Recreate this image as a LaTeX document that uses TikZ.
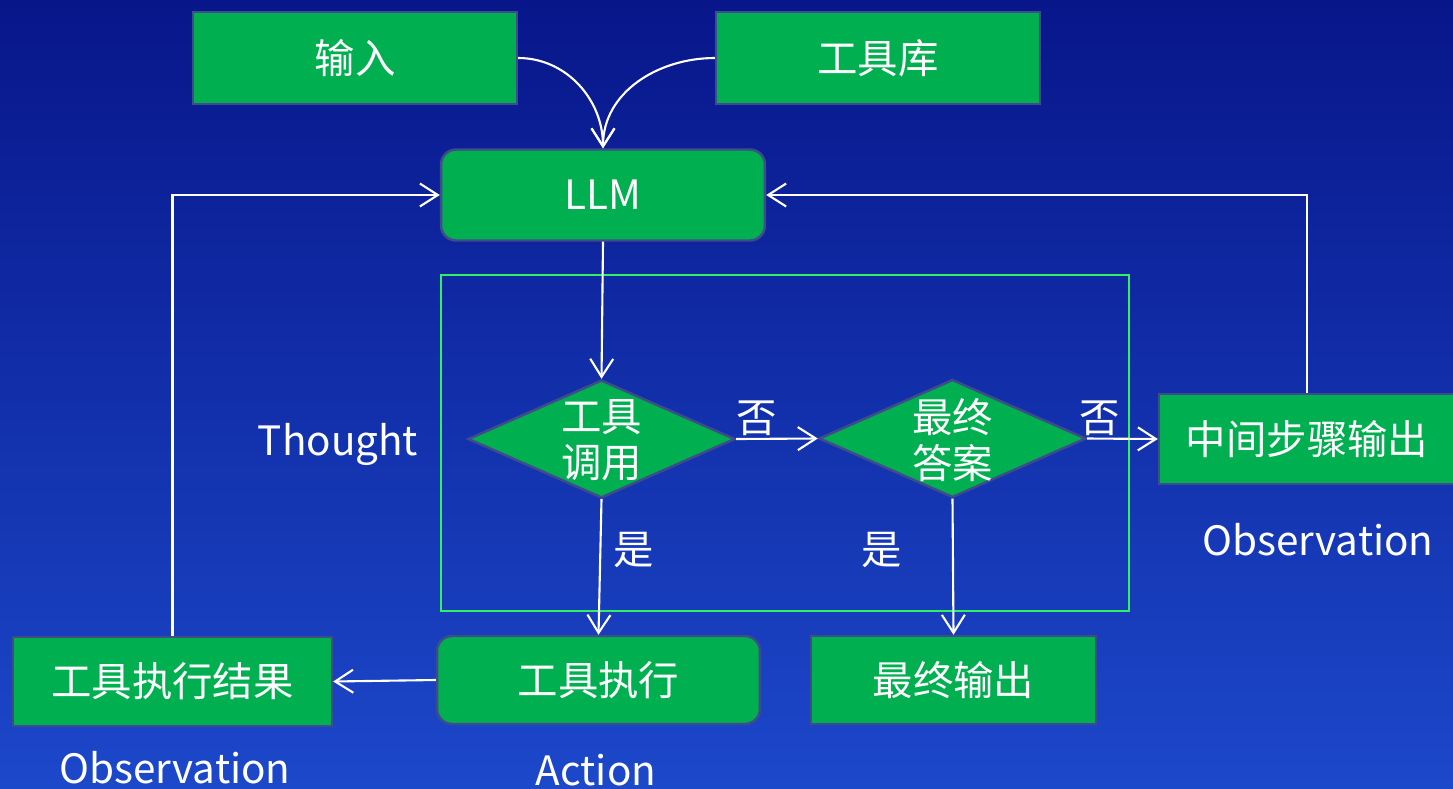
\documentclass[tikz,border=0pt]{standalone}
\usepackage{fontspec}
\setmainfont{Noto Sans CJK SC}
\usetikzlibrary{shapes.geometric,arrows.meta}
\definecolor{bgtop}{RGB}{8,22,138}
\definecolor{bgbot}{RGB}{28,72,202}
\definecolor{boxgreen}{RGB}{0,176,80}
\definecolor{boxedge}{RGB}{62,76,140}
\definecolor{framegreen}{RGB}{50,240,100}
\begin{document}
\begin{tikzpicture}[x=0.02cm,y=-0.02cm,
  box/.style={draw=boxedge, line width=1.4pt, fill=boxgreen, text=white,
    font=\fontsize{23}{28}\selectfont, inner sep=0pt},
  rbox/.style={box, rounded corners=0.3cm},
  dia/.style={diamond, draw=boxedge, line width=1.4pt, fill=boxgreen, inner sep=0pt,
    minimum width=5.34cm, minimum height=2.36cm},
  lbl/.style={text=white, font=\fontsize{23}{27}\selectfont, inner sep=0pt},
  conn/.style={draw=white, line width=1.2pt, -{Straight Barb[length=3.6mm,width=4.6mm]}}]
\useasboundingbox (0,0) rectangle (1453,788);
\shade[top color=bgtop, bottom color=bgbot] (0,0) rectangle (1453,788);

\node[draw=framegreen, line width=1.2pt, minimum width=13.76cm, minimum height=6.72cm, inner sep=0pt] (frame) at (785,443) {};

\node[box, minimum width=6.48cm, minimum height=1.84cm] (in) at (355,58) {输入};
\node[box, minimum width=6.48cm, minimum height=1.84cm] (lib) at (878,58) {工具库};
\node[rbox, minimum width=6.48cm, minimum height=1.82cm] (llm) at (603,195) {LLM};
\node[dia] (d1) at (601.5,439) {};
\node[lbl, align=center, font=\fontsize{23}{26}\selectfont] (d1t) at (601.5,440) {工具\\调用};
\node[dia] (d2) at (952.5,438.5) {};
\node[lbl, align=center, font=\fontsize{23}{26}\selectfont] (d2t) at (952.5,440) {最终\\答案};
\node[box, minimum width=5.92cm, minimum height=1.8cm] (mid) at (1307,439) {中间步骤输出};
\node[box, minimum width=6.38cm, minimum height=1.78cm] (res) at (172.5,681.5) {工具执行结果};
\node[rbox, minimum width=6.46cm, minimum height=1.76cm] (exec) at (598.5,680) {工具执行};
\node[box, minimum width=5.7cm, minimum height=1.76cm] (fin) at (953.5,680) {最终输出};

\node[lbl] (thought) at (338,444) {Thought};
\node[lbl] (obs1) at (1318,540) {Observation};
\node[lbl] (obs2) at (175,768) {Observation};
\node[lbl] (act) at (596,770) {Action};
\node[lbl] (no1) at (757,418) {否};
\node[lbl] (no2) at (1100,418) {否};
\node[lbl] (yes1) at (634,550) {是};
\node[lbl] (yes2) at (882,550) {是};

\draw[conn] (in.east) to[out=0,in=90] (llm.north);
\draw[conn] (lib.west) to[out=180,in=90] (llm.north);
\draw[conn] (llm.south) -- (d1.north);
\draw[conn] (d1.east) -- (d2.west);
\draw[conn] (d2.east) -- (mid.west);
\draw[conn] (mid.north) |- (llm.east);
\draw[conn] (res.north) |- (llm.west);
\draw[conn] (d1.south) -- (exec.north);
\draw[conn] (d2.south) -- (fin.north);
\draw[conn] (exec.west) -- (res.east);
\end{tikzpicture}
\end{document}
